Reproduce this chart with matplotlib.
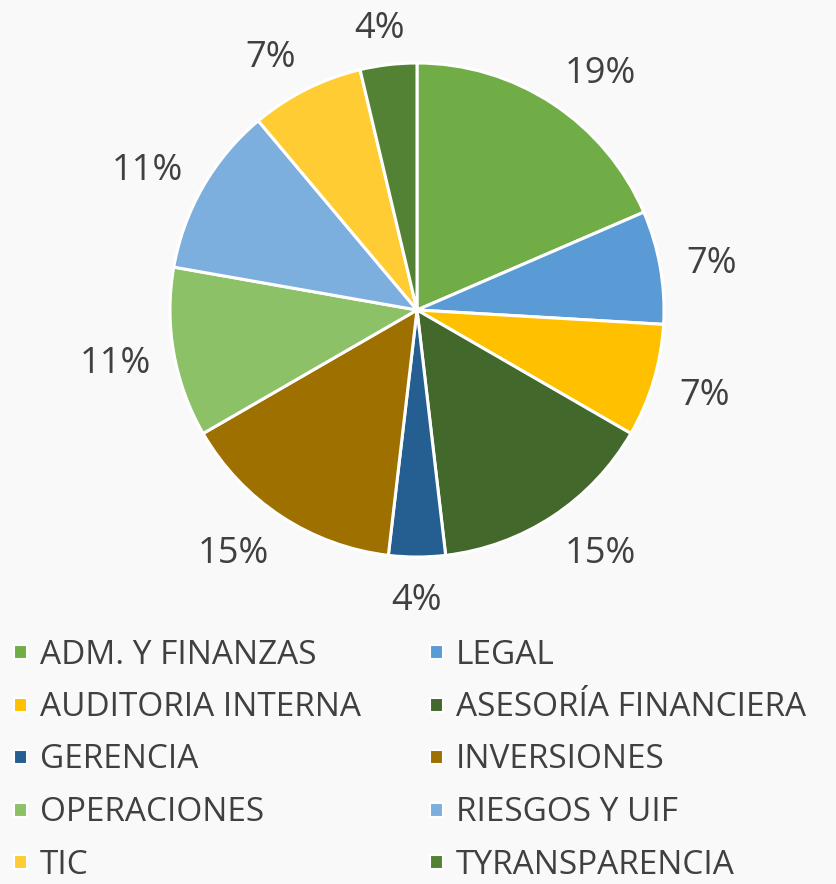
import numpy as np
import matplotlib.pyplot as plt
from matplotlib.patches import Rectangle

# datos: cantidad por area (porcentajes calculados por el pie)
areas = ['ADM. Y FINANZAS', 'LEGAL', 'AUDITORIA INTERNA', 'ASESORÍA FINANCIERA',
         'GERENCIA', 'INVERSIONES', 'OPERACIONES', 'RIESGOS Y UIF', 'TIC',
         'TYRANSPARENCIA']
cantidad = [5, 2, 2, 4, 1, 4, 3, 3, 2, 1]
colores = ['#70ad47', '#5b9bd5', '#ffc000', '#43682b', '#255e91',
           '#9e7000', '#8cc168', '#7cafdd', '#ffcd33', '#548235']

W, H = 837, 884
fig = plt.figure(figsize=(W / 100, H / 100), dpi=100)
fig.patch.set_facecolor('#f9f9f9')
plt.rcParams['font.family'] = ['Open Sans', 'DejaVu Sans']
gris = '#404040'

cx, cy, r = 417, 310, 247
ax = fig.add_axes([(cx - r) / W, (H - cy - r) / H, 2 * r / W, 2 * r / H])
ax.set_facecolor('none')

wedges, _ = ax.pie(cantidad, colors=colores, startangle=90, counterclock=False,
                   wedgeprops=dict(edgecolor='white', linewidth=2.2))
ax.set_xlim(-1, 1)
ax.set_ylim(-1, 1)
ax.set_aspect('equal')
ax.axis('off')

# etiquetas fuera del pie, estilo excel
total = sum(cantidad)
for w, v in zip(wedges, cantidad):
    ang = np.deg2rad((w.theta1 + w.theta2) / 2)
    c, s = np.cos(ang), np.sin(ang)
    txt = '%d%%' % round(100 * v / total)
    ancho = 68 if len(txt) > 2 else 54
    dx = np.sign(c) * ancho / 2 * min(1, 2 * abs(c)) * 0.72
    dy = (s * 15 - 4) * 0.72
    ax.annotate(txt, (1.1 * c, 1.1 * s),
                xytext=(dx, dy), textcoords='offset points',
                ha='center', va='center', fontsize=26, color=gris,
                annotation_clip=False)

# leyenda en dos columnas
col_x = [14, 430]
row_y = [652, 704.5, 757, 809.5, 862]
for i, (nombre, c) in enumerate(zip(areas, colores)):
    x = col_x[i % 2]
    y = row_y[i // 2]
    fig.patches.append(Rectangle((x / W, (H - y - 7) / H), 13 / W, 14 / H,
                                 transform=fig.transFigure, facecolor=c,
                                 edgecolor='white', linewidth=1.5))
    fig.text((x + 26) / W, (H - y - 11.5) / H, nombre, fontsize=24, color=gris,
             va='baseline', ha='left')

fig.savefig('out.png', dpi=100, facecolor=fig.get_facecolor())
